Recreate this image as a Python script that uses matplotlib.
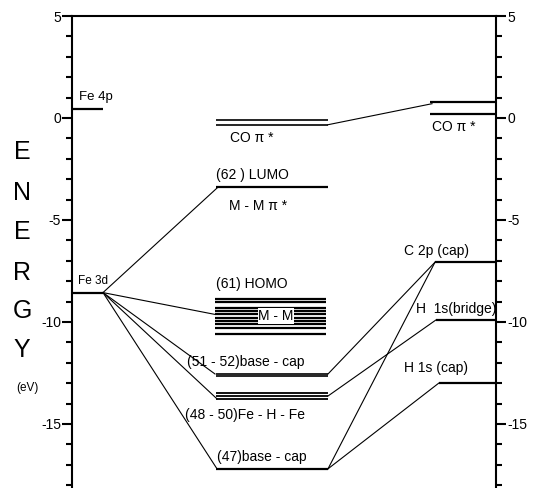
import matplotlib
matplotlib.use('Agg')
import matplotlib.pyplot as plt
from matplotlib.ticker import MultipleLocator
from matplotlib import font_manager

plt.rcParams['font.family'] = ['Liberation Sans', 'DejaVu Sans']
plt.rcParams['axes.unicode_minus'] = False

# Energies (eV)
fe_4p = 0.43
fe_3d = -8.56
co_pi_mid = [-0.12, -0.33]
lumo = -3.39
mm_stack = [-8.86, -9.02, -9.31, -9.47, -9.63, -9.79, -9.95, -10.11, -10.28, -10.59]
base_cap_51_52 = [-12.55, -12.63]
fe_h_fe = [-13.5, -13.63, -13.77]
base_cap_47 = -17.2
co_pi_right = [0.8, 0.2]
c2p_cap = -7.07
h1s_bridge = -9.9
h1s_cap = -12.99

y_ticks = [5, 0, -5, -10, -15]
y_letters = ['E', 'N', 'E', 'R', 'G', 'Y']

# column extents (x in axes units, 0..424)
LEFT = (0, 31)
MID = (144, 256)
RIGHT = (360, 424)

LEVEL_LW = 1.6
LINK_LW = 0.8

installed = {f.name for f in font_manager.fontManager.ttflist}
narrow = 'Liberation Sans Narrow' if 'Liberation Sans Narrow' in installed else 'Liberation Sans'

fig = plt.figure(figsize=(5.33, 4.88), dpi=100)
ax = fig.add_axes([72 / 533, 0, 424 / 533, 472 / 488])
ax.set_xlim(0, 424)
ax.set_ylim(-18.14, 5)


def level(x, e, lw=LEVEL_LW):
    ax.plot(x, [e, e], color='black', lw=lw, solid_capstyle='butt')


def link(x0, e0, x1, e1):
    ax.plot([x0, x1], [e0, e1], color='black', lw=LINK_LW)


# left column: Fe
level(LEFT, fe_4p)
level(LEFT, fe_3d)
ax.text(7, fe_4p + 0.6, 'Fe 4p', fontsize=9.5, va='center')
ax.text(6, fe_3d + 0.55, 'Fe 3d', fontsize=8.5, va='center')

# middle column: complex MOs
for e in co_pi_mid:
    level(MID, e, lw=1.2)
level(MID, lumo)
for e in mm_stack:
    level((MID[0] - 1, MID[1] - 2), e, lw=1.6)
for e in base_cap_51_52:
    level(MID, e, lw=1.2)
for e in fe_h_fe:
    level(MID, e, lw=1.3)
level(MID, base_cap_47)

fs = 10
ax.text(158, -1.0, 'CO π *', fontsize=fs, va='center')
ax.text(144, lumo + 0.58, '(62 ) LUMO', fontsize=fs, va='center')
ax.text(157, lumo - 0.93, 'M - M π *', fontsize=fs, va='center')
ax.text(144, mm_stack[0] + 0.73, '(61) HOMO', fontsize=fs, va='center')
ax.text(204, -9.7, 'M - M', fontsize=fs, va='center', ha='center',
        bbox=dict(facecolor='white', edgecolor='none', pad=0.5))
ax.text(115, base_cap_51_52[0] + 0.6, '(51 - 52)base - cap', fontsize=fs, va='center')
ax.text(113, fe_h_fe[-1] - 0.8, '(48 - 50)Fe - H - Fe', fontsize=fs, va='center')
ax.text(145, base_cap_47 + 0.6, '(47)base - cap', fontsize=fs, va='center')

# right column: ligand fragments
level((358, 424), co_pi_right[0])
level((358, 424), co_pi_right[1])
level((363, 424), c2p_cap)
level((364, 424), h1s_bridge)
level((367, 424), h1s_cap)
ax.text(360, -0.42, 'CO π *', fontsize=fs, va='center')
ax.text(332, c2p_cap + 0.55, 'C 2p (cap)', fontsize=fs, va='center')
ax.text(344, h1s_bridge + 0.55, 'H  1s(bridge)', fontsize=fs, va='center')
ax.text(332, h1s_cap + 0.72, 'H 1s (cap)', fontsize=fs, va='center')

# correlation lines
link(LEFT[1], fe_3d, 146, lumo)
link(LEFT[1], fe_3d, MID[0] - 1, mm_stack[4])
link(LEFT[1], fe_3d, MID[0] - 1, base_cap_51_52[0])
link(LEFT[1], fe_3d, MID[0] + 1, fe_h_fe[-1])
link(LEFT[1], fe_3d, MID[0] + 1, base_cap_47)
link(MID[1], co_pi_mid[1], 360, co_pi_right[0] - 0.1)
link(363, c2p_cap, MID[1], base_cap_51_52[0])
link(363, c2p_cap, MID[1], base_cap_47)
link(364, h1s_bridge, MID[1], fe_h_fe[1])
link(367, h1s_cap, MID[1], base_cap_47)

# axes
for side in ['left', 'right', 'top']:
    ax.spines[side].set_linewidth(1.5)
ax.spines['bottom'].set_visible(False)
ax.set_xticks([])
ax.set_yticks(y_ticks)
ax.yaxis.set_minor_locator(MultipleLocator(1))
ax.tick_params(axis='y', which='major', direction='out', length=7, width=1.5,
               labelsize=10, left=True, right=True, labelleft=True, labelright=True, pad=1)
ax.tick_params(axis='y', which='minor', direction='out', length=4, width=1.5,
               left=True, right=True)

# vertical axis title
letter_y = [152, 193, 232, 273, 311, 350]
for ch, yp in zip(y_letters, letter_y):
    fig.text(22 / 533, 1 - yp / 488, ch, fontsize=18, ha='center', va='center',
             family=narrow)
fig.text(27 / 533, 1 - 388 / 488, '(eV)', fontsize=8.5, ha='center', va='center')

fig.savefig('out.png', dpi=100)
